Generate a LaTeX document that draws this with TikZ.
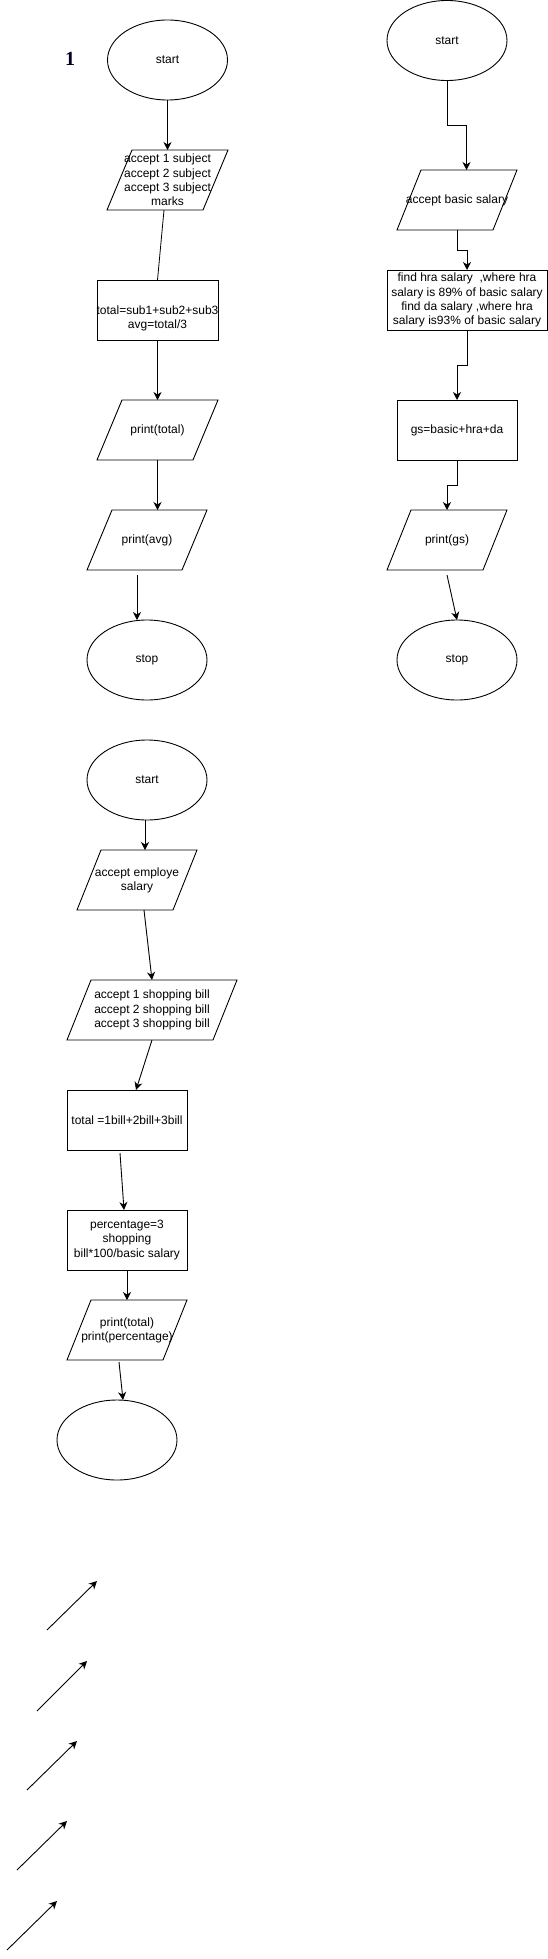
\documentclass[tikz,border=0pt]{standalone}
\usepackage{fontspec}
\setmainfont{Liberation Sans}
\newfontfamily\numfont{Liberation Serif}
\usetikzlibrary{arrows.meta,shapes.geometric}
\tikzset{
  every node/.style={font=\fontsize{12}{14.2}\selectfont, text=black, inner sep=0pt, outer sep=0pt, align=center},
  oval/.style={draw, line width=0.9pt, ellipse, minimum width=120pt, minimum height=80pt},
  box/.style={draw, line width=0.9pt, rectangle, minimum height=60pt},
  iobox/.style={rectangle, minimum height=60pt},
  conn/.style={line width=0.9pt, -{Stealth[length=8pt,width=8pt,inset=2.5pt]}},
  plainconn/.style={line width=0.8pt},
  para/.style={line width=0.9pt}
}
\newcommand{\paraoutline}[2]{%
  \draw[para] ([xshift=#2pt]#1.north west) -- (#1.north east) -- ([xshift=-#2pt]#1.south east) -- (#1.south west) -- cycle;}
\begin{document}
\begin{tikzpicture}[x=1pt,y=-1pt]
\useasboundingbox (0,0) rectangle (548,1959);

% label
\node[font=\numfont\bfseries\fontsize{20}{22}\selectfont, text=black!85!blue] (one) at (70,59) {1};

% ---------- flow 1 ----------
\node[oval] (s1) at (167.5,60) {start};
\node[iobox, minimum width=121pt] (a1) at (167.5,180) {accept 1 subject\\accept 2 subject\\accept 3 subject\\marks};
\paraoutline{a1}{25}
\node[box, minimum width=121pt, label={[yshift=-8pt, align=center]center:{total=sub1+sub2+sub3\\avg=total/3}}] (r1) at (157.5,310) {};
\node[iobox, minimum width=121pt] (p2) at (157.5,430) {print(total)};
\paraoutline{p2}{25}
\node[iobox, minimum width=120pt] (p3) at (147,540) {print(avg)};
\paraoutline{p3}{25}
\node[oval] (e1) at (147,660) {stop};

\draw[conn] (s1.south) -- (a1.north);
\draw[plainconn] ([xshift=-3.5pt]a1.south) -- (r1.north);
\draw[conn] (r1.south) -- (p2.north);
\draw[conn] (p2.south) -- ([xshift=10.5pt]p3.north);
\draw[conn] ([xshift=-10pt,yshift=-5pt]p3.south) -- ([xshift=-10pt]e1.north);

% ---------- flow 2 ----------
\node[oval] (s2) at (447,40.5) {start};
\node[iobox, minimum width=120pt] (a2) at (457,200) {accept basic salary};
\paraoutline{a2}{24}
\node[box, minimum width=160pt] (r2) at (467,300) {find hra salary~~,where hra\\salary is 89\% of basic salary\\find da salary ,where hra\\salary is93\% of basic salary};
\node[box, minimum width=120pt] (r3) at (457,430) {gs=basic+hra+da};
\node[iobox, minimum width=120pt] (p4) at (447,540) {print(gs)};
\paraoutline{p4}{24}
\node[oval] (e2) at (457,660) {stop};

\draw[conn] (s2.south) -- ++(0,45) -| ([xshift=9.5pt]a2.north);
\draw[conn] (a2.south) -- ++(0,20) -| (r2.north);
\draw[conn] (r2.south) -- ++(0,35) -| (r3.north);
\draw[conn] (r3.south) -- ++(0,25) -| (p4.north);
\draw[conn] ([yshift=-5pt]p4.south) -- (e2.north);

% ---------- flow 3 ----------
\node[oval] (s3) at (147,780) {start};
\node[iobox, minimum width=120pt] (a3) at (137,880) {accept employe\\salary};
\paraoutline{a3}{24}
\node[iobox, minimum width=170pt] (b3) at (152,1010) {accept 1 shopping bill\\accept 2 shopping bill\\accept 3 shopping bill};
\paraoutline{b3}{24}
\node[box, minimum width=120pt] (r4) at (127,1120) {total =1bill+2bill+3bill};
\node[box, minimum width=120pt] (r5) at (127,1240) {percentage=3\\shopping\\bill*100/basic salary};
\node[iobox, minimum width=120pt] (p5) at (127,1330) {print(total)\\print(percentage)};
\paraoutline{p5}{24}
\node[oval] (e3) at (117,1440) {};

\draw[conn] ([xshift=-2pt]s3.south) -- ([xshift=8pt]a3.north);
\draw[conn] ([xshift=7pt]a3.south) -- (b3.north);
\draw[conn] (b3.south) -- ([xshift=9pt]r4.north);
\draw[conn] ([xshift=-7pt,yshift=-3pt]r4.south) -- ([xshift=-3pt]r5.north);
\draw[conn] (r5.south) -- (p5.north);
\draw[conn] ([xshift=-8pt,yshift=-2pt]p5.south) -- ([xshift=6pt]e3.north);

% ---------- loose arrows ----------
\coordinate (f1s) at (47,1630); \coordinate (f1e) at (97,1581);
\coordinate (f2s) at (37,1711); \coordinate (f2e) at (87,1661);
\coordinate (f3s) at (27,1790); \coordinate (f3e) at (77,1741);
\coordinate (f4s) at (17,1870); \coordinate (f4e) at (67,1821);
\coordinate (f5s) at (7,1950);  \coordinate (f5e) at (57,1901);
\draw[conn] (f1s) -- (f1e);
\draw[conn] (f2s) -- (f2e);
\draw[conn] (f3s) -- (f3e);
\draw[conn] (f4s) -- (f4e);
\draw[conn] (f5s) -- (f5e);
\end{tikzpicture}
\end{document}
